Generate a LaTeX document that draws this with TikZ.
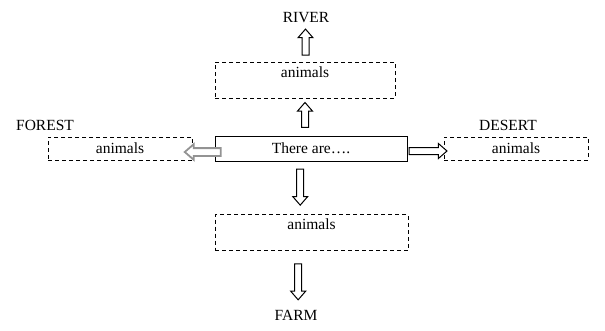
\documentclass[tikz,border=0pt]{standalone}
\usepackage{fontspec}
\setmainfont{Liberation Serif}
\usetikzlibrary{shapes.arrows}

\begin{document}
\begin{tikzpicture}[x=1pt, y=-1pt, font=\fontsize{15.5pt}{18pt}\selectfont,
  dashbox/.style={draw, dash pattern=on 4pt off 3pt, line width=1pt, inner sep=0pt},
  topdash/.style={dashbox, inner ysep=3pt, text height=12pt, text depth=18pt},
  textbox/.style={draw, line width=1pt, minimum width=192pt, minimum height=25pt, inner sep=0pt},
  blockarrow/.style={single arrow, draw, line width=1pt, fill=white, inner sep=3pt,
    single arrow head extend=4pt, single arrow tip angle=82},
  grayarrow/.style={draw=gray!85, line width=1.8pt}
]
  \useasboundingbox (0,0) rectangle (605,330);

  % central box
  \node[textbox] (mid) at (311,148.5) {There are….};

  % boxes around it
  \node[topdash, minimum width=180pt] (upper) at (305,80) {animals};
  \node[topdash, minimum width=193pt] (lower) at (311.5,232.5) {animals};
  \node[dashbox, minimum width=144pt, minimum height=23pt] (west) at (120,148.5) {animals};
  \node[dashbox, minimum width=144pt, minimum height=23pt] (east) at (516,148.5) {animals};

  % places
  \node (river) at (306,18) {RIVER};
  \node (forest) at (45,125) {FOREST};
  \node (desert) at (508,125) {DESERT};
  \node (farm) at (296,315) {FARM};

  % block arrows
  \path (upper.north) -- node[blockarrow, shape border rotate=90, minimum height=26pt] (toriver) {} (river.south);
  \path (upper.south |- mid.north) -- node[blockarrow, shape border rotate=90, minimum height=25pt] (toupper) {} (upper.south);
  \path ([xshift=-11pt]mid.south) -- node[blockarrow, shape border rotate=270, minimum height=36pt, pos=0.45] (tolower) {} ([xshift=-11pt]lower.north);
  \path ([xshift=-11pt]lower.south) -- node[blockarrow, shape border rotate=270, minimum height=36pt, pos=0.52] (tofarm) {} (farm.north);
  \path ([yshift=-3.5pt, xshift=8pt]mid.west) -- node[blockarrow, grayarrow, shape border rotate=180, minimum height=36pt] (towest) {} ([yshift=-3.5pt, xshift=-5pt]west.east);
  \path ([yshift=-2.5pt]mid.east) -- node[blockarrow, minimum height=38pt] (toeast) {} ([yshift=-2.5pt, xshift=1pt]east.west);
\end{tikzpicture}
\end{document}
